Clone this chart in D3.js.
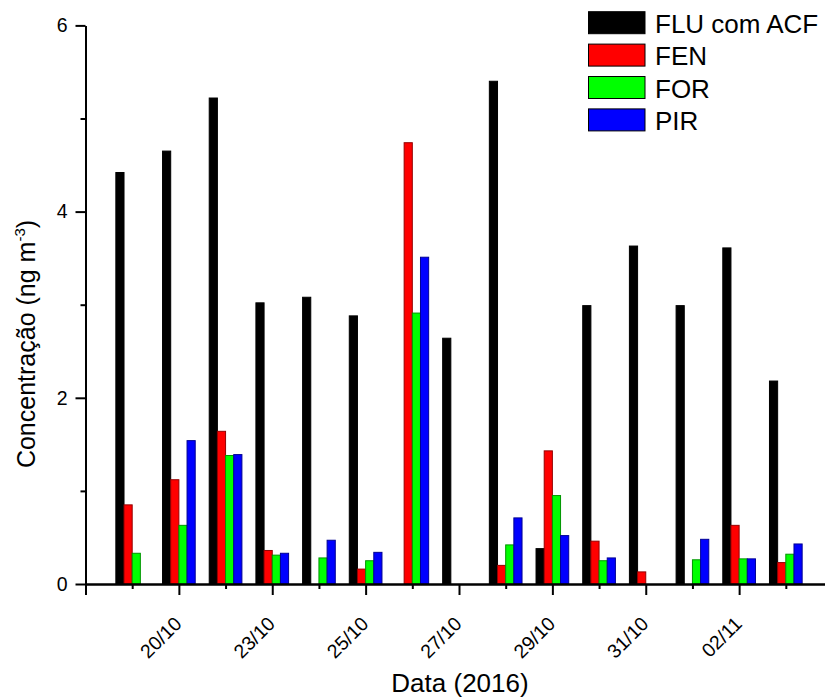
<!DOCTYPE html>
<html>
<head>
<meta charset="utf-8">
<script src="https://cdn.jsdelivr.net/npm/d3@7"></script>
<style>
  body { margin: 0; background: #fff; }
  svg { display: block; font-family: "Liberation Sans", Arial, sans-serif; }
  .axis path, .axis line { stroke: #000; stroke-width: 2; }
</style>
</head>
<body>
<script>
'use strict';

// sampling days, only every other one is labelled on the axis
const dates = ["", "20/10", "", "23/10", "", "25/10", "", "27/10", "", "29/10", "", "31/10", "", "02/11", ""];
const series = ["FLU com ACF", "FEN", "FOR", "PIR"];
const flu = [4.42, 4.65, 5.22, 3.02, 3.08, 2.88, 0, 2.64, 5.40, 0.38, 2.99, 3.63, 2.99, 3.61, 2.18];
const fen = [0.85, 1.12, 1.64, 0.36, 0, 0.16, 4.74, 0, 0.20, 1.43, 0.46, 0.13, 0, 0.63, 0.23];
const forr = [0.33, 0.63, 1.38, 0.31, 0.28, 0.25, 2.91, 0, 0.42, 0.95, 0.25, 0, 0.26, 0.27, 0.32];
const pir = [0, 1.54, 1.39, 0.33, 0.47, 0.34, 3.51, 0, 0.71, 0.52, 0.28, 0, 0.48, 0.27, 0.43];
const yMajor = [0, 2, 4, 6];
const yMinor = [1, 3, 5];

const colors = ["#000000", "#FF0000", "#00FF00", "#0000FF"];
const values = [flu, fen, forr, pir];

let width = 825;
let height = 700;

let svg = d3.select('body')
  .append('svg')
  .attr('width', width)
  .attr('height', height);

// positions 1..15 are the days, axis runs from 0 to 16
let xScale = d3.scaleLinear()
  .domain([0, dates.length + 1])
  .range([85.5, 832.5]);

let yScale = d3.scaleLinear()
  .domain([0, 6])
  .range([584, 25.4]);

let step = xScale(1) - xScale(0);
let barW = step * 0.7 / series.length;

// bars
series.forEach(function(name, s) {
  let rows = values[s].map((v, i) => ({ i: i + 1, v: v })).filter(d => d.v > 0);
  svg.selectAll('.bar' + s)
    .data(rows)
    .enter()
    .append('rect')
      .attr('class', 'bar' + s)
      .attr('x', d => xScale(d.i) - 2 * barW + s * barW)
      .attr('y', d => yScale(d.v))
      .attr('width', barW)
      .attr('height', d => yScale(0) - yScale(d.v))
      .attr('fill', colors[s])
      .attr('stroke', d3.color(colors[s]).darker(1.5))
      .attr('stroke-width', 1);
});

// x axis
let xMajor = d3.range(0, dates.length + 2, 2);
let xMinor = d3.range(1, dates.length + 1, 2);

svg.append('g')
  .attr('class', 'axis')
  .attr('transform', 'translate(0,' + yScale(0) + ')')
  .call(d3.axisBottom(xScale).tickValues(xMinor).tickSize(5).tickSizeOuter(0).tickFormat(''));

let xAxis = svg.append('g')
  .attr('class', 'axis')
  .attr('transform', 'translate(0,' + yScale(0) + ')')
  .call(d3.axisBottom(xScale).tickValues(xMajor).tickSize(11).tickSizeOuter(0)
    .tickFormat(d => dates[d - 1] || ''));

xAxis.selectAll('text')
  .attr('text-anchor', 'end')
  .attr('transform', 'translate(3.5,41) rotate(-45)')
  .attr('dy', 0)
  .attr('y', 0)
  .attr('x', 0)
  .style('font-size', '19.5px')
  .style('font-family', '"Liberation Sans", Arial, sans-serif')
  .attr('fill', '#000');

// y axis
svg.append('g')
  .attr('class', 'axis')
  .attr('transform', 'translate(' + xScale(0) + ',0)')
  .call(d3.axisLeft(yScale).tickValues(yMinor).tickSize(5).tickSizeOuter(0).tickFormat(''));

let yAxis = svg.append('g')
  .attr('class', 'axis')
  .attr('transform', 'translate(' + xScale(0) + ',0)')
  .call(d3.axisLeft(yScale).tickValues(yMajor).tickSize(10).tickSizeOuter(0).tickFormat(d3.format('d')));
yAxis.selectAll('text')
  .attr('x', -18)
  .style('font-size', '19.5px')
  .style('font-family', '"Liberation Sans", Arial, sans-serif')
  .attr('fill', '#000');

// axis titles
svg.append('text')
  .attr('x', 460)
  .attr('y', 692)
  .attr('text-anchor', 'middle')
  .style('font-size', '26px')
  .text('Data (2016)');

let yTitle = svg.append('text')
  .attr('transform', 'translate(35,344) rotate(-90)')
  .attr('text-anchor', 'middle')
  .style('font-size', '25px');
yTitle.append('tspan').text('Concentração (ng m');
yTitle.append('tspan').attr('dy', -10).style('font-size', '15px').text('-3');
yTitle.append('tspan').attr('dy', 10).text(')');

// legend
series.forEach(function(name, s) {
  let y0 = 11.7 + s * 32.4;
  svg.append('rect')
    .attr('x', 588.5)
    .attr('y', y0)
    .attr('width', 56.5)
    .attr('height', 22)
    .attr('fill', colors[s])
    .attr('stroke', '#000')
    .attr('stroke-width', 1);
  svg.append('text')
    .attr('x', 655)
    .attr('y', y0 + 21)
    .style('font-size', '26px')
    .text(name);
});
</script>
</body>
</html>
